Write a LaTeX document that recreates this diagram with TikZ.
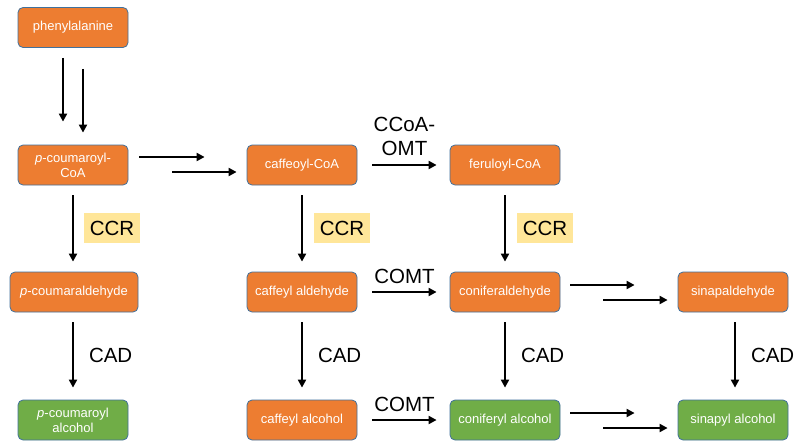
\documentclass[tikz,border=0pt]{standalone}
\usepackage{fontspec}
\setmainfont{Liberation Sans}
\usetikzlibrary{arrows.meta,calc}
\definecolor{boxorange}{HTML}{ED7D31}
\definecolor{boxgreen}{HTML}{70AD47}
\definecolor{boxedge}{HTML}{41719C}
\definecolor{enzbg}{HTML}{FFE699}
\tikzset{
  cmpd/.style={draw=boxedge, line width=0.8pt, rounded corners=5pt, minimum width=110pt, minimum height=40pt, text=white, font=\fontsize{13}{15}\selectfont, align=center, inner sep=2pt},
  orng/.style={cmpd, fill=boxorange},
  grn/.style={cmpd, fill=boxgreen},
  arr/.style={line width=2pt, -{Triangle[length=8pt,width=8pt]}},
  enz/.style={font=\fontsize{20.5}{24}\selectfont, align=center, inner sep=2pt},
  enzhl/.style={enz, fill=enzbg, minimum width=56pt, minimum height=30pt, inner sep=2pt}
}
\begin{document}
\begin{tikzpicture}[x=1pt,y=-1pt]
\useasboundingbox[fill=white] (0,0) rectangle (800,447);
% compounds
\node[orng] (phe) at (73,27.5) {phenylalanine};
\node[orng] (pcoa) at (73,165) {\textit{p}-coumaroyl-\\CoA};
\node[orng] (caf) at (302,165) {caffeoyl-CoA};
\node[orng] (fer) at (505,165) {feruloyl-CoA};
\node[orng, minimum width=128pt] (pald) at (74,292) {\textit{p}-coumaraldehyde};
\node[orng] (cald) at (302,292) {caffeyl aldehyde};
\node[orng] (conald) at (505,292) {coniferaldehyde};
\node[orng] (sinald) at (733,292) {sinapaldehyde};
\node[grn] (palc) at (73,420) {\textit{p}-coumaroyl\\alcohol};
\node[orng] (calc) at (302,420) {caffeyl alcohol};
\node[grn] (conalc) at (505,420) {coniferyl alcohol};
\node[grn] (sinalc) at (733,420) {sinapyl alcohol};
% double arrows phe -> pcoa
\draw[arr] ($(phe.south)+(-10,10)$) -- ($(pcoa.north)+(-10,-23)$);
\draw[arr] ($(phe.south)+(10,21)$) -- ($(pcoa.north)+(10,-12)$);
% double arrows pcoa -> caf
\draw[arr] ($(pcoa.east)+(11,-8)$) -- ($(caf.west)+(-42,-8)$);
\draw[arr] ($(pcoa.east)+(44,7)$) -- ($(caf.west)+(-10,7)$);
% caf -> fer
\draw[arr] ($(caf.east)+(15,0)$) -- node[enz, above=6pt] {CCoA-\\OMT} ($(fer.west)+(-13,0)$);
% CCR
\draw[arr] ($(pcoa.south)+(0,10)$) -- ($(pald.north)+(-1,-10)$);
\node[enzhl] (ccr1) at (112,228) {CCR};
\draw[arr] ($(caf.south)+(0,10)$) -- ($(cald.north)+(0,-10)$);
\node[enzhl] (ccr2) at (342,228) {CCR};
\draw[arr] ($(fer.south)+(0,10)$) -- ($(conald.north)+(0,-10)$);
\node[enzhl] (ccr3) at (545,228) {CCR};
% COMT row 2
\draw[arr] ($(cald.east)+(15,0)$) -- node[enz, above=5pt] {COMT} ($(conald.west)+(-13,0)$);
% double conald -> sinald
\draw[arr] ($(conald.east)+(10,-7)$) -- ($(sinald.west)+(-43,-7)$);
\draw[arr] ($(conald.east)+(43,8)$) -- ($(sinald.west)+(-10,8)$);
% CAD
\draw[arr] ($(pald.south)+(-1,10)$) -- node[enz, right=13pt] {CAD} ($(palc.north)+(0,-12)$);
\draw[arr] ($(cald.south)+(0,10)$) -- node[enz, right=13pt] {CAD} ($(calc.north)+(0,-12)$);
\draw[arr] ($(conald.south)+(0,10)$) -- node[enz, right=13pt] {CAD} ($(conalc.north)+(0,-12)$);
\draw[arr] ($(sinald.south)+(2,10)$) -- node[enz, right=13pt] {CAD} ($(sinalc.north)+(2,-12)$);
% COMT row 3
\draw[arr] ($(calc.east)+(15,0)$) -- node[enz, above=5pt] {COMT} ($(conalc.west)+(-13,0)$);
% double conalc -> sinalc
\draw[arr] ($(conalc.east)+(10,-7)$) -- ($(sinalc.west)+(-43,-7)$);
\draw[arr] ($(conalc.east)+(43,8)$) -- ($(sinalc.west)+(-10,8)$);
\end{tikzpicture}
\end{document}
